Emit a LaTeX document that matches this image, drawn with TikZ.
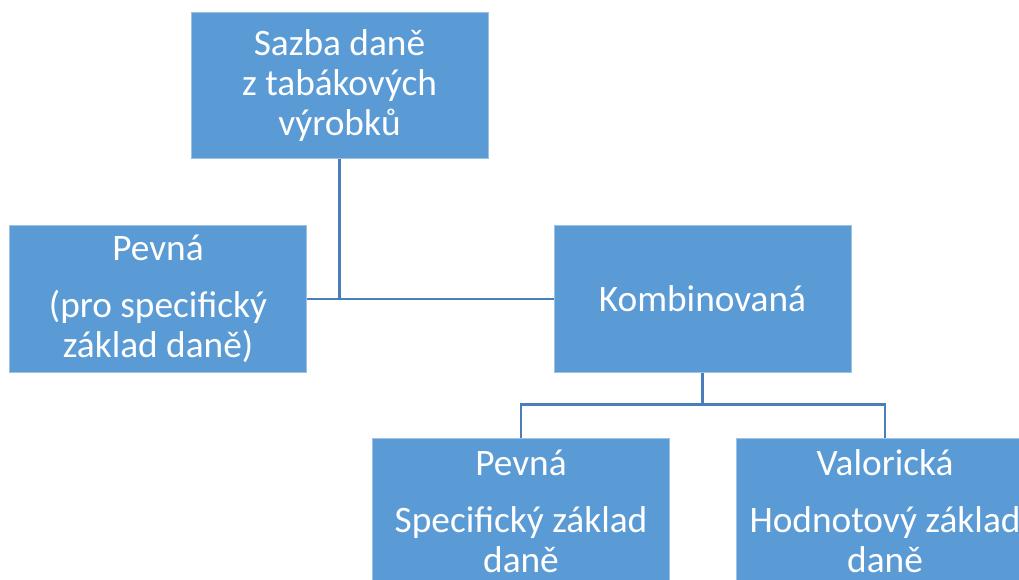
\documentclass[tikz,border=0pt]{standalone}
\usepackage{fontspec}
\setmainfont{Carlito}
\definecolor{boxblue}{HTML}{5B9BD5}
\definecolor{edgeblue}{HTML}{9CC2E5}
\definecolor{linkblue}{HTML}{4A7EBB}
\begin{document}
\begin{tikzpicture}[x=0.75pt,y=-0.75pt,
  box/.style={rectangle, fill=boxblue, draw=edgeblue, line width=0.6pt,
    minimum width=222.75pt, minimum height=110pt, inner sep=0pt,
    text=white, align=center, font=\fontsize{28}{30}\selectfont},
  link/.style={draw=linkblue, line width=2.2pt}]
\clip (0,0) rectangle (1019,580);
\fill[white] (0,0) rectangle (1019,580);
\node[box] (top) at (339.5,85.5) {Sazba daně\\z tabákových\\výrobků};
\node[box] (left) at (158,299) {Pevná\\[13pt](pro specifický\\základ daně)};
\node[box] (komb) at (702.5,299) {Kombinovaná};
\node[box] (bl) at (521,511.5) {Pevná\\[13pt]Specifický základ\\daně};
\node[box] (br) at (885,511.5) {Valorická\\[13pt]Hodnotový základ\\daně};
\draw[link] (top.south) -- (top.south |- left.east);
\draw[link] (left.east) -- (komb.west);
\draw[link] (komb.south) -- ++(0,32) coordinate (j);
\draw[link] (bl.north) |- (j) -| (br.north);
\end{tikzpicture}
\end{document}
